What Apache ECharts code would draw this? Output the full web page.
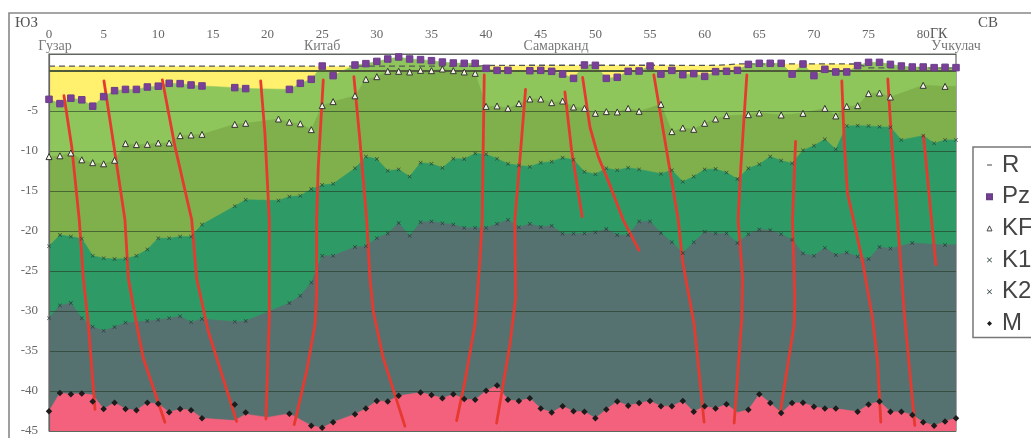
<!DOCTYPE html>
<html><head><meta charset="utf-8">
<style>html,body{margin:0;padding:0;background:#fff;overflow:hidden}#c{width:1031px;height:438px;filter:blur(0.45px)}</style>
<script src="https://cdn.jsdelivr.net/npm/echarts@6/dist/echarts.min.js"></script>
</head><body><div id="c"></div>
<script>
const tickLabelsEvery = 5;
const R = [.6,.6,.6,.6,.6,.6,.6,.6,.6,.6,.6,.6,.6,.6,.6,.6,.6,.6,.6,.6,.6,.6,.6,.6,.6,.6,.6,.6,.6,.6,.6,.6,.6,.6,.6,.6,.6,.6,.6,.6,
 .68,.7,.7,.7,.72,.72,.72,.72,.72,.72,.72,.72,.72,.72,.72,.72,.72,.72,.7,.7,.7,.72,.78,.88,.9,.9,.9,.9,.9,.9,.9,.9,.9,.88,.87,.4,.4,.4,.4,.4,.4,.4,.4,.4];
const Pz = [-3.54,-4.08,-3.4,-3.6,-4.4,-3.2,-2.46,-2.3,-2.3,-2,-1.9,-1.54,-1.58,-1.75,-1.87,null,null,-2.08,-2.2,null,null,null,-2.3,-1.54,-1.04,.62,-.58,null,.75,.92,1.2,1.5,1.75,1.5,1.42,1.29,1.12,1,.96,.96,
 .33,.08,.08,null,.04,.08,-.04,-.38,-.92,.75,.71,-.92,-.79,-.04,0,.62,-.38,.08,-.46,-.33,-.67,-.08,-.04,.08,.83,.96,.96,.96,-.38,.875,-.58,.21,-.12,-.12,.67,1.08,1.08,.83,.62,.5,.5,.42,.46,.42];
const KF = [-10.7,-10.6,-10.25,-11.1,-11.46,-11.6,-11.16,-9.08,-9.2,-9.17,-9,-9,-8.08,-8,-7.92,null,null,-6.67,-6.54,null,null,-6,-6.4,-6.6,-7.33,-4.33,-3.83,null,-3.1,-1.04,-.71,-.04,-.04,-.12,.08,.04,.25,.04,-.12,-.29,
 -4.42,-4.37,-4.67,-4.08,-3.5,-3.5,-3.96,-3.75,-4.5,-4.67,-5.29,-5.08,-5.12,-4.67,-5.04,null,-4.17,-7.58,-7.12,-7.29,-6.54,-6,-5.58,null,-5.46,-5.25,null,-5.5,null,-5.29,null,-4.67,-5.62,-4.42,-4.33,-2.83,-2.75,-3.25,null,null,-1.79,null,-1.92,null];
const K1 = [-21.9,-20.5,-20.7,-20.96,-23.1,-23.4,-23.5,-23.46,-23.1,-22.3,-20.9,-20.9,-20.7,-20.7,-19.2,null,null,-16.9,-16.1,null,null,-16.2,-15.7,-15.6,-14.75,-14.25,-14.1,null,-12.17,-10.7,-11,-12.46,-12.3,-13.2,-11.46,-11.6,-12.1,-10.96,-11,-10.3,
 -10.4,-10.96,-11.6,-11.8,-11.96,-11.46,-11.33,-10.83,-11.1,-12.6,-12.9,-12.17,-12.4,-12.08,-12.3,null,-12.83,-12.4,-13.83,-13.2,-12.3,-12.25,-12.7,-13.5,-12.17,-11.67,-10.7,-11.2,-11.54,-9.92,-9.33,-8.54,-9.79,-6.87,-6.83,-6.87,-6.96,-7.04,-8.62,null,-8.08,-9.04,-8.62,-8.62];
const K2 = [-30.9,-29.3,-29,-30.9,-31.96,-32.46,-32,-31.46,null,-31.25,-31.1,-30.9,-30.66,-31.4,-31,null,null,-31.33,-31.25,null,null,null,-29,-28.1,-26.45,-23.1,-23.1,null,-22,-21.9,-20.9,-20.3,-19,-20.6,-18.9,-18.8,-19.04,-19.2,-19.6,-19.6,
 -19.6,-19.1,-18.6,-19.54,-19.1,-19.5,-19.33,-20.33,-20.33,-20.3,-20.16,-19.75,-20.5,-20.5,-18.8,-18.8,-20.25,-21.4,-22.75,-21.4,-20.1,-20.3,-20.3,-21.5,-20.4,-19.8,-19.9,-20.4,-21.1,-22.8,-23.1,-22.1,-23,-22.7,-23.2,-23.5,-22,-22.2,null,-21.5,null,null,-21.75,null];
const M = [-42.54,-40.25,-40.4,-40.3,-41.3,-42.25,-41.46,-42.25,-42.4,-41.46,-41.6,-42.66,-42.25,-42.4,-43.4,null,null,-41.7,-42.7,null,null,null,-42.83,null,-44.33,-44.6,-43.9,null,-42.9,-42.2,-41.25,-41.3,-40.6,null,-40.2,-40.5,-40.9,-40.4,-41,-41.1,
 -39.96,-39.3,-41.1,-41.25,-40.9,-42.2,-42.7,-41.9,-42.54,-42.6,-43.4,-42.3,-41.3,-41.84,-41.5,-41.25,-41.9,-41.9,-41.25,-42.6,-41.9,-42.2,-41.66,null,-42.34,-40.4,-41.5,-42.75,-41.5,-41.46,-41.96,-42.2,-42.2,null,-42.6,-41.7,-41.3,-42.6,-42.6,-43,-43.9,-44.33,-43.8,-43.4];
// boundary of the filled layers where it departs from the markers (at faults and at the chart's right edge)
const kfEdge = {83:-1.9};
const k2Edge = {83:-21.7};
const mEdge = {4:-40.5, 17:-43.7, 18:-42.9, 20:-43.3, 63:-42.7};

const fault1 = [[1.37,-3.09],[2.08,-9.46],[2.77,-18.6],[3.14,-25.9],[3.6,-31.7],[4.21,-42.3]];
const fault2 = [[5.03,-1.25],[5.95,-9.46],[6.95,-18.6],[7.26,-25.9],[8.02,-31.7],[8.63,-35.9],[10.61,-43.9]];
const fault3 = [[10.37,-1.1],[11.53,-9.46],[13.06,-18.6],[13.51,-25.9],[14.57,-32.5],[17.17,-43.8]];
const fault4 = [[19.37,-1.25],[19.76,-7.8],[20.16,-18.6],[20.16,-30.9],[19.85,-43.5]];
const fault5 = [[25.1,-1.1],[24.64,-12],[24.49,-18.6],[24.49,-28],[24.34,-31.7],[23.58,-37.5],[22.44,-44.2]];
const fault6 = [[27.9,-.7],[28.45,-8.6],[29.07,-18.6],[29.37,-25.9],[29.67,-30],[30.59,-35.9],[32.57,-44.4]];
const fault7 = [[39.83,-.5],[39.64,-18.6],[39.43,-23.8],[38.98,-31.7],[38.06,-38.8],[37.3,-43.7]];
const fault8 = [[43.61,-2.3],[43.09,-11.1],[42.63,-18.6],[42.7,-28.4],[42.18,-34.2],[40.96,-44]];
const fault9 = [[47.21,-2.6],[47.82,-9.9],[48.79,-18.2]];
const fault10 = [[48.83,-.8],[49.5,-7],[50.26,-10.7],[51.02,-13.2],[52.54,-18.6],[53.98,-22.4]];
const fault11 = [[55.35,-.5],[56.66,-11.1],[57.58,-18.6],[57.98,-23.8],[59.04,-31.7],[59.95,-43.9]];
const fault12 = [[63.86,-.5],[63.31,-12],[63.06,-18.6],[63.47,-25.9],[63.4,-30.9],[62.7,-44]];
const fault13 = [[68.32,-8.8],[68.04,-18.6],[68.25,-28.4],[68.19,-31.7],[66.91,-42.75]];
const fault14 = [[72.55,-1.25],[72.76,-8.6],[73.07,-15.3],[73.62,-18.6],[74.45,-23.8],[75.36,-30.9],[75.82,-36.3],[76.12,-43.9]];
const fault15 = [[76.76,-1],[77.1,-8.6],[77.65,-18.6],[78.25,-30],[79.23,-44.3]];
const fault16 = [[80.03,-8.1],[80.76,-18.6],[81.16,-24.2]];
const faults = [fault1,fault2,fault3,fault4,fault5,fault6,fault7,fault8,fault9,fault10,fault11,fault12,fault13,fault14,fault15,fault16];

const placeNames = ['Гузар','Китаб','Самарканд','Учкулач'];
const placeKm = [0.55,25,46.4,83];
const legendNames = ['R','Pz','KF','K1','K2','M'];

const Y_TOP = 2.125, Y_BOTTOM = -45, X_MAX = 83;
const SERIF = '"Liberation Serif","DejaVu Serif",serif';
const XMARK = 'path://M1 0L5 4L9 0L10 1L6 5L10 9L9 10L5 6L1 10L0 9L4 5L0 1Z';

const withEdge = (arr, edge) => arr.map((v,i)=>[i, i in edge ? edge[i] : v]);
const area = (name, data, color) => ({
  type:'line', name, data, connectNulls:true, showSymbol:false, symbol:'none', silent:true, z:2,
  lineStyle:{width:0.6,color}, areaStyle:{color,opacity:1,origin:'start'}, animation:false
});
const dots = (name, arr, symbol, size, color, border) => ({
  type:'scatter', name, data:arr.map((v,i)=>[i,v]).filter(d=>d[1]!==null), symbol, symbolSize:size, silent:true, z:6, clip:false,
  itemStyle:{color,borderColor:border||color,borderWidth:border?1:0,opacity:1}, animation:false
});

const option = {
  animation:false,
  backgroundColor:'#fff',
  grid:{left:49,right:75,top:54,bottom:7,show:true,borderColor:'#666',borderWidth:1.2,backgroundColor:'transparent',containLabel:false},
  xAxis:{type:'value',position:'top',min:0,max:X_MAX,interval:tickLabelsEvery,
    axisLine:{show:false},axisTick:{show:false},splitLine:{show:false},
    axisLabel:{showMaxLabel:false,showMinLabel:true,margin:13,color:'#666',fontFamily:SERIF,fontSize:13}},
  yAxis:{type:'value',min:Y_BOTTOM,max:Y_TOP,interval:5,z:3,
    axisLine:{show:true,lineStyle:{color:'#666',width:1.2}},axisTick:{show:false},
    splitLine:{show:true,lineStyle:{color:'rgba(35,55,35,0.6)',width:1}},
    axisLabel:{showMaxLabel:false,margin:11,color:'#666',fontFamily:SERIF,fontSize:13,
      formatter:v=>v<0?String(v):''}},
  legend:{left:973,top:147,orient:'vertical',width:120,
    data:[
      {name:'R',icon:'path://M0 0h0M0 10h0M0 4h10v2H0z',itemStyle:{color:'#444'}},
      {name:'Pz',icon:'rect'},{name:'KF',icon:'triangle',itemStyle:{color:'#fff',borderColor:'#444',borderWidth:1}},
      {name:'K1',icon:XMARK},{name:'K2',icon:XMARK},{name:'M',icon:'diamond'}],
    itemWidth:5,itemHeight:5,itemGap:5.7,padding:[5,60,1,13],
    backgroundColor:'#fff',borderColor:'#777',borderWidth:1.5,selectedMode:false,
    textStyle:{fontFamily:'"Liberation Sans",Arial,sans-serif',fontSize:24,lineHeight:26,color:'#444',padding:[0,0,0,5]}},
  graphic:[
    {type:'rect',z:-10,silent:true,shape:{x:9,y:13,width:1200,height:600},style:{fill:'none',stroke:'#888',lineWidth:1.6}},
    {type:'text',left:15,top:16,silent:true,style:{text:'ЮЗ',font:'15px '+SERIF,fill:'#555'}},
    {type:'text',left:978,top:16,silent:true,style:{text:'СВ',font:'15px '+SERIF,fill:'#555'}},
    {type:'text',left:930,top:27,silent:true,style:{text:'ГК',font:'14px '+SERIF,fill:'#555'}}
  ],
  series:[
    Object.assign(area('R',R.map((v,i)=>[i,v]),'#fff06e'),{
      lineStyle:{width:1.3,color:'#555',type:[6,4]},
      itemStyle:{color:'#444'}}),
    area('PzLayer',Pz.map((v,i)=>[i,v]),'#8fc65c'),
    area('KFLayer',withEdge(KF,kfEdge),'#7fb04c'),
    area('K1Layer',K1.map((v,i)=>[i,v]),'#2e9b66'),
    area('K2Layer',withEdge(K2,k2Edge),'#557271'),
    area('MLayer',withEdge(M,mEdge),'#f3617c'),
    {type:'line',name:'zero',silent:true,data:[[0,0],[X_MAX,0]],symbol:'none',z:4,animation:false,lineStyle:{color:'#4f5a3a',width:1.8}},
    ...faults.map((f,i)=>({type:'line',name:'fault'+(i+1),data:f,symbol:'none',silent:true,z:5,clip:false,animation:false,
      lineStyle:{color:'#e63a30',width:2.8,cap:'round',join:'round'}})),
    dots('Pz',Pz,'rect',6.5,'#7a3f98','#6a3f88'),
    dots('KF',KF,'triangle',6,'#f6f6e6','#333'),
    dots('K1',K1,XMARK,4,'#2b3f33'),
    dots('K2',K2,XMARK,4,'#2a3a3a'),
    dots('M',M,'diamond',6.5,'#1c1c1c'),
    {type:'scatter',name:'places',silent:true,z:7,symbolSize:0,clip:false,animation:false,
      data:placeNames.map((n,i)=>[placeKm[i],Y_TOP,n]),
      label:{show:true,position:'top',distance:1,formatter:p=>p.value[2],fontFamily:SERIF,fontSize:14,color:'#555'}}
  ]
};
echarts.init(document.getElementById('c'),null,{renderer:'canvas'}).setOption(option);
</script></body></html>
